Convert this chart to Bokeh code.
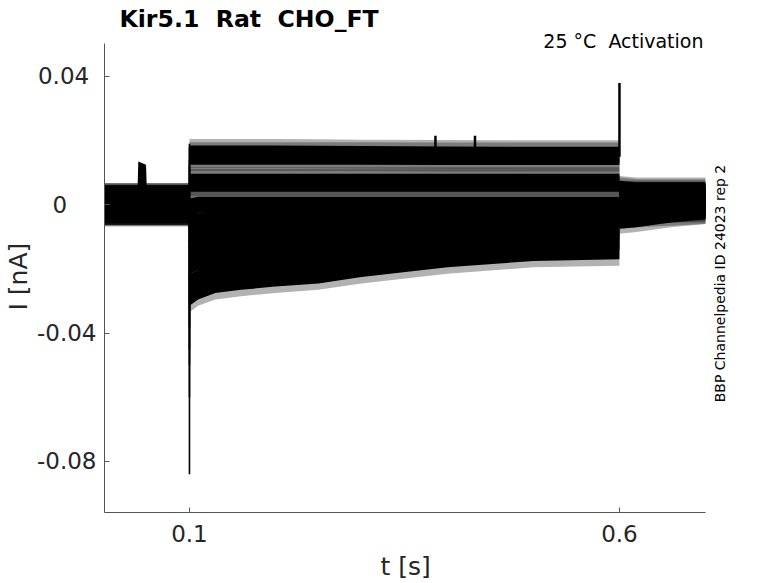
import numpy as np
from bokeh.plotting import figure
from bokeh.models import Label, FixedTicker, Title
from bokeh.embed import file_html
from bokeh.resources import INLINE

# ---------------- data ----------------
title_text = "Kir5.1\u00a0 Rat\u00a0 CHO_FT"
cond_text = "25 °C\u00a0 Activation"
side_text = "BBP Channelpedia ID 24023 rep 2"
x_label = "t [s]"
y_label = "I [nA]"

x_ticks = [0.1, 0.6]
x_tick_labels = ["0.1", "0.6"]
y_ticks = [0.04, 0.0, -0.04, -0.08]
y_tick_labels = ["0.04", "0", "-0.04", "-0.08"]
# the reference's tick labels are not right aligned: trailing no-break spaces reproduce that
y_tick_pad = [1, 4, 0, 0]

t_start, t_end = 0.0, 0.7
y_low, y_high = -0.0959, 0.0503
step_on, step_off = 0.1, 0.6

# times inside the voltage step and after it
step_t = [0.1, 0.11, 0.13, 0.16, 0.2, 0.25, 0.3, 0.4, 0.5, 0.5999]
tail_t = [0.6, 0.62, 0.66, 0.7]

# baseline level of each sweep before the step
pre_level = [0.0005, 0.0, 0.0005, 0.0, -0.0005, 0.0, 0.0005, 0.0, -0.0005, 0.0, 0.0]

# mean current of each sweep during the step (nA)
step_level = [
    [0.0160, 0.0160, 0.0160, 0.0160, 0.0160, 0.0159, 0.0158, 0.0157, 0.0156, 0.0156],
    [0.0150, 0.0150, 0.0150, 0.0150, 0.0150, 0.0150, 0.0150, 0.0149, 0.0149, 0.0149],
    [0.0072, 0.0072, 0.0072, 0.0072, 0.0072, 0.0072, 0.0072, 0.0072, 0.0072, 0.0072],
    [0.0066, 0.0066, 0.0066, 0.0066, 0.0066, 0.0066, 0.0066, 0.0066, 0.0066, 0.0066],
    [-0.0005, 0.0, 0.0, 0.0, 0.0, 0.0, 0.0, 0.0, 0.0, 0.0],
    [-0.005, -0.005, -0.0045, -0.004, -0.004, -0.0035, -0.003, -0.003, -0.0025, -0.0025],
    [-0.010, -0.0095, -0.009, -0.0085, -0.008, -0.0075, -0.0065, -0.0055, -0.005, -0.005],
    [-0.015, -0.014, -0.013, -0.012, -0.011, -0.010, -0.0095, -0.0085, -0.0075, -0.007],
    [-0.019, -0.018, -0.017, -0.016, -0.015, -0.014, -0.013, -0.0115, -0.010, -0.0095],
    [-0.024, -0.023, -0.021, -0.020, -0.019, -0.018, -0.0165, -0.014, -0.0125, -0.0115],
    [-0.029, -0.027, -0.025, -0.024, -0.023, -0.022, -0.020, -0.017, -0.015, -0.0145],
]

# mean current of each sweep after the step (tail)
tail_level = [
    [0.0045, 0.004, 0.004, 0.004],
    [0.004, 0.0035, 0.0035, 0.0035],
    [0.003, 0.003, 0.003, 0.003],
    [0.0025, 0.0025, 0.0025, 0.0025],
    [0.002, 0.002, 0.002, 0.002],
    [0.001, 0.001, 0.001, 0.001],
    [0.0, 0.0, 0.0, 0.0],
    [-0.001, -0.001, -0.001, -0.0005],
    [-0.002, -0.0015, -0.001, -0.001],
    [-0.003, -0.0025, -0.002, -0.0015],
    [-0.0045, -0.004, -0.0025, -0.0015],
]

# half width of the dense noise band and of the noise spikes (nA)
pre_noise, pre_peak = 0.0042, 0.0062
step_noise, step_peak = 0.0025, 0.0045
tail_noise, tail_peak = 0.003, 0.0045

# capacitive transient peak of each sweep at step onset
on_peak = [0.019, 0.018, 0.014, 0.012, -0.008, -0.03, -0.038, -0.045, -0.05, -0.06, -0.084]

# artefact before the step
blip_t = [0.0395, 0.0405, 0.0495, 0.0505]
blip_hi = [0.004, 0.0135, 0.0125, 0.004]
blip_lo = [-0.002, 0.002, 0.002, -0.002]

# isolated spikes (time, base, top)
spike_t = [0.386, 0.432, 0.6]
spike_base = [0.015, 0.015, 0.015]
spike_top = [0.0215, 0.0215, 0.038]

# ---------------- figure ----------------
FONT = "DejaVu Sans"
TXT = "#262626"
AX = "#555555"

# frame spans the page right of / above the axes so that the texts there are not clipped
x_lo = 0.0012
x_hi = x_lo + 674 / 860.0
y_top = 0.06369
y_bot = -0.09592

p = figure(width=778, height=583, output_backend="svg", toolbar_location=None,
           x_range=(x_lo, x_hi), y_range=(y_bot, y_top),
           min_border_left=104, min_border_right=0, min_border_top=0, min_border_bottom=71)
p.outline_line_color = None
p.xgrid.visible = False
p.ygrid.visible = False
p.background_fill_color = "white"
p.border_fill_color = "white"

for ax in (p.xaxis[0], p.yaxis[0]):
    ax.axis_line_color = AX
    ax.axis_line_width = 1
    ax.major_tick_line_color = AX
    ax.major_tick_in = 5
    ax.major_tick_out = 0
    ax.minor_tick_line_color = None
    ax.major_label_text_font = FONT
    ax.major_label_text_font_size = "23px"
    ax.major_label_text_color = TXT

p.xaxis.ticker = FixedTicker(ticks=x_ticks)
p.xaxis.major_label_overrides = {k: v for k, v in zip(x_ticks, x_tick_labels)}
p.xaxis.major_label_standoff = 12
p.xaxis.bounds = (t_start, t_end)
# the frame runs on to the right page edge: the label is padded so that it sits under the axis' middle
p.xaxis.axis_label = x_label + "\u00a0" * 9
p.xaxis.axis_label_standoff = 7
p.xaxis.axis_label_text_font = FONT
p.xaxis.axis_label_text_font_size = "25px"
p.xaxis.axis_label_text_font_style = "normal"
p.xaxis.axis_label_text_color = TXT

p.yaxis.ticker = FixedTicker(ticks=y_ticks)
p.yaxis.major_label_overrides = {k: v + "\u00a0" * n for k, v, n in zip(y_ticks, y_tick_labels, y_tick_pad)}
p.yaxis.major_label_standoff = 8
p.yaxis.bounds = (y_low, y_high)

# sweeps drawn as noise bands: faint band = noise spikes, solid band = dense noise
bands = []
for i in range(len(step_level)):
    t = [t_start, step_on - 0.0001] + step_t + tail_t
    c = np.array([pre_level[i]] * 2 + step_level[i] + tail_level[i])
    hw = np.array([pre_noise] * 2 + [step_noise] * len(step_t) + [tail_noise] * len(tail_t))
    pk = np.array([pre_peak] * 2 + [step_peak] * len(step_t) + [tail_peak] * len(tail_t))
    bands.append((t, c, hw, pk))

for t, c, hw, pk in bands:
    p.varea(x=t, y1=c - pk, y2=c + pk, fill_color="black", fill_alpha=0.3)
for t, c, hw, pk in bands:
    p.varea(x=t, y1=c - hw, y2=c + hw, fill_color="black", fill_alpha=1.0)

p.varea(x=blip_t, y1=blip_lo, y2=blip_hi, fill_color="black")

# capacitive transients at step onset
p.segment(x0=[step_on] * len(on_peak), y0=pre_level, x1=[step_on] * len(on_peak), y1=on_peak,
          line_color="black", line_width=1.6)
# spikes
p.segment(x0=spike_t, y0=spike_base, x1=spike_t, y1=spike_top, line_color="black", line_width=2.5)

# ---------------- texts ----------------
p.add_layout(Label(x=15, y=494, x_units="screen", y_units="screen", text=title_text,
                   text_font=FONT, text_font_size="23.6px", text_font_style="bold",
                   text_color="black", text_baseline="alphabetic"))
p.add_layout(Label(x=599, y=472, x_units="screen", y_units="screen", text=cond_text,
                   text_font=FONT, text_font_size="19px", text_color="black",
                   text_align="right", text_baseline="alphabetic"))
p.add_layout(Label(x=615, y=229, x_units="screen", y_units="screen", text=side_text,
                   text_font=FONT, text_font_size="14px", text_color="black",
                   text_align="center", text_baseline="middle", angle=np.pi / 2))

p.add_layout(Title(text=y_label, align="left", offset=202, standoff=2, vertical_align="bottom",
                   text_font=FONT, text_font_size="25px", text_font_style="normal",
                   text_color=TXT), "left")

open("out.html", "w").write(file_html(p, INLINE))
